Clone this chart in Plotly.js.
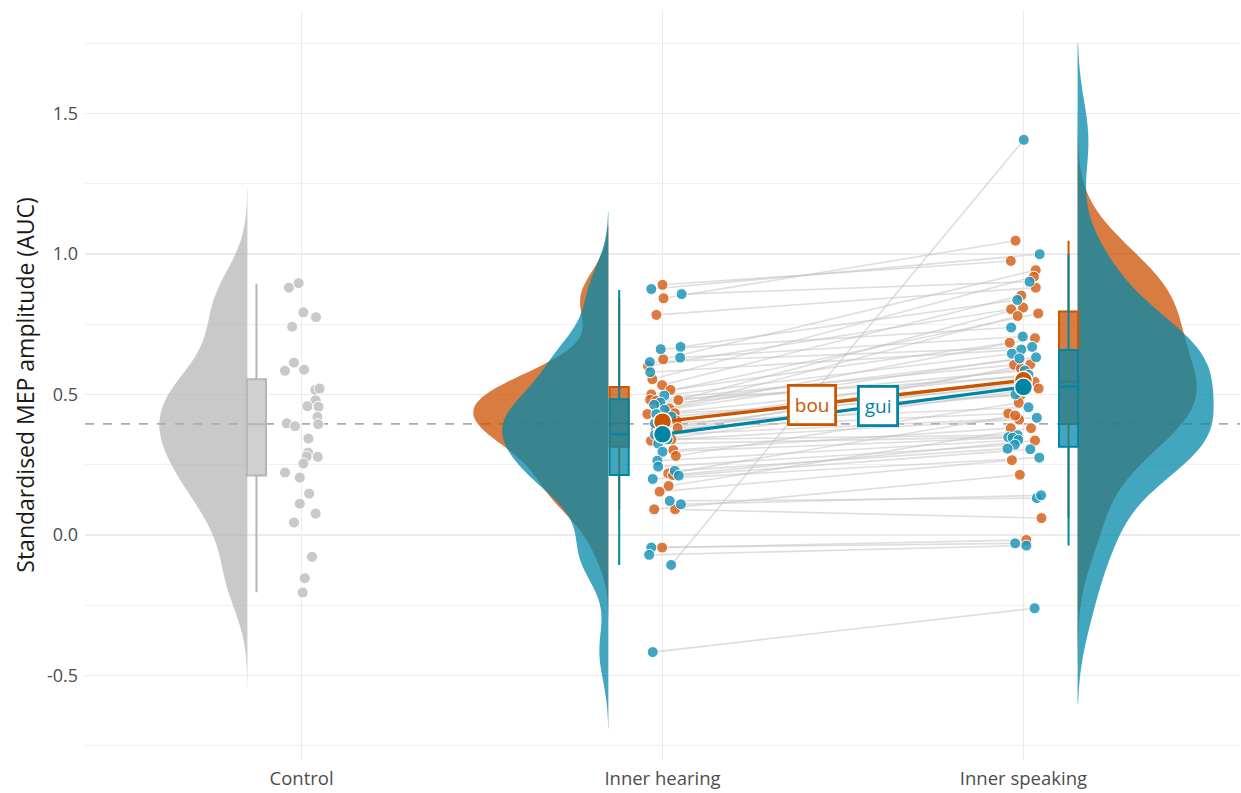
<!DOCTYPE html>
<html><head><meta charset="utf-8">
<script src="https://cdn.plot.ly/plotly-3.0.1.min.js"></script>
<style>html,body{margin:0;padding:0;background:#fff}#chart{width:1241px;height:793px}</style>
</head><body><div id="chart"></div>
<script>
const categories = ['Control', 'Inner hearing', 'Inner speaking'];
const categoryPos = [0, 1, 2];

const controlValues = [0.880,0.896,0.792,0.775,0.741,0.613,0.584,0.588,0.516,0.521,0.479,0.458,0.456,0.420,0.397,0.387,0.394,0.343,0.293,0.279,0.278,0.254,0.222,0.204,0.147,0.111,0.076,0.044,-0.078,-0.154,-0.205];
const controlJitter = [-0.035,-0.008,0.005,0.040,-0.026,-0.021,-0.046,0.007,0.038,0.050,0.039,0.016,0.047,0.044,-0.041,-0.018,0.046,0.019,0.018,0.014,0.045,0.005,-0.046,-0.005,0.021,-0.005,0.039,-0.021,0.029,0.009,0.003];

const hearingBou = [0.890,0.842,0.783,0.625,0.601,0.554,0.533,0.516,0.500,0.481,0.480,0.478,0.450,0.433,0.430,0.407,0.380,0.380,0.360,0.340,0.335,0.302,0.281,0.219,0.213,0.174,0.154,0.091,0.091,-0.045];
const hearingBouJitter = [0,0.003,-0.017,0.002,-0.040,-0.028,-0.001,0.022,-0.031,-0.034,0.044,-0.017,0.019,0.034,-0.042,0.039,0.042,-0.019,0.006,0.025,-0.032,0.030,0.037,0.016,0.029,0.017,-0.008,-0.023,0.035,-0.001];
const speakingBou = [0.975,1.047,0.880,0.942,0.803,0.919,0.852,0.684,0.788,0.605,0.809,0.563,0.700,0.497,0.779,0.592,0.432,0.545,0.607,0.410,0.521,0.380,0.470,0.425,0.336,0.380,0.266,0.214,0.060,-0.018];
const speakingBouJitter = [-0.035,-0.022,0.034,0.034,-0.034,0.029,-0.006,-0.038,0.041,-0.026,-0.001,0.003,0.032,-0.008,-0.016,-0.007,-0.042,0.031,0.019,-0.012,0.042,-0.035,-0.013,-0.023,0.032,0.021,-0.032,-0.010,0.050,0.008];

const hearingGui = [0.875,0.857,0.669,0.661,0.631,0.615,0.579,0.496,0.471,0.463,0.445,0.430,0.421,0.397,0.380,0.356,0.340,0.325,0.296,0.264,0.243,0.228,0.211,0.199,0.121,0.109,-0.045,-0.071,-0.107,-0.417];
const hearingGuiJitter = [-0.031,0.053,0.050,-0.005,0.049,-0.035,-0.034,0.005,-0.006,-0.023,0.006,-0.017,0.025,-0.021,-0.003,-0.021,0.014,-0.012,0,-0.014,-0.012,0.034,0.045,-0.027,0.020,0.051,-0.031,-0.037,0.024,-0.027];
const speakingGui = [0.999,0.901,0.836,0.738,0.706,0.669,0.660,0.645,0.632,0.585,0.628,0.570,0.530,0.454,0.500,0.417,0.355,0.348,0.346,0.338,0.321,0.307,0.305,0.275,0.131,0.141,-0.030,-0.038,1.406,-0.261];
const speakingGuiJitter = [0.045,0.017,-0.017,-0.034,-0.002,0.024,-0.006,-0.032,0.035,0.004,-0.011,0.014,0,0.014,-0.022,0.037,-0.016,-0.042,-0.030,-0.014,-0.024,-0.044,0.019,0.044,0.037,0.049,-0.023,0.008,0.001,0.031];

// condition means (Inner hearing, Inner speaking)
const meanBou = [0.403, 0.550];
const meanGui = [0.358, 0.526];
const controlReference = 0.395;

// box statistics: [Inner hearing, Inner speaking]
const bouQ1 = [0.314, 0.395], bouMedian = [0.397, 0.546], bouQ3 = [0.526, 0.795], bouLow = [0.091, 0.060], bouHigh = [0.842, 1.047];
const guiQ1 = [0.213, 0.314], guiMedian = [0.358, 0.528], guiQ3 = [0.483, 0.658], guiLow = [-0.107, -0.038], guiHigh = [0.872, 0.999];
const controlBox = [0.211, 0.394, 0.554, -0.204, 0.894]; // q1, median, q3, low, high

// density extents
const controlSpan = [-0.55, 1.24];
const hearingBouSpan = [-0.30, 1.10];
const hearingGuiSpan = [-0.69, 1.15];
const speakingBouSpan = [-0.45, 1.50];
const speakingGuiSpan = [-0.60, 1.75];

const ORANGE = 'rgb(204,85,0)';
const BLUE = 'rgb(0,133,165)';
const ORANGE_A = 'rgba(204,80,2,0.75)';
const BLUE_A = 'rgba(3,136,170,0.75)';
const GREY_A = 'rgba(175,175,175,0.68)';

const traces = [];
function violin(vals, pos, side, bw, span, w, fill) {
  traces.push({type:'violin', y: vals, x0: pos, side: side, bandwidth: bw,
    spanmode:'manual', span: span, width: w, scalemode:'width',
    fillcolor: fill, line:{width:0, color:'rgba(0,0,0,0)'}, points:false,
    box:{visible:false}, meanline:{visible:false}, hoverinfo:'skip', showlegend:false});
}
violin(controlValues, -0.15, 'negative', 0.115, controlSpan, 0.488, GREY_A);
violin(hearingBou, 1 - 0.15, 'negative', 0.085, hearingBouSpan, 0.748, ORANGE_A);
violin(hearingGui, 1 - 0.15, 'negative', 0.1, hearingGuiSpan, 0.588, BLUE_A);
violin(speakingBou, 2 + 0.15, 'positive', 0.14, speakingBouSpan, 0.66, ORANGE_A);
violin(speakingGui, 2 + 0.15, 'positive', 0.14, speakingGuiSpan, 0.754, BLUE_A);

function box(pos, q1, med, q3, lo, hi, line, fill) {
  traces.push({type:'box', x: pos, q1: q1, median: med, q3: q3, lowerfence: lo, upperfence: hi,
    width: 0.053, whiskerwidth: 0, line:{color: line, width: 2}, fillcolor: fill,
    boxpoints:false, hoverinfo:'skip', showlegend:false});
}
box([-0.125], [controlBox[0]], [controlBox[1]], [controlBox[2]], [controlBox[3]], [controlBox[4]], 'rgb(182,182,182)', 'rgba(200,200,200,0.85)');
box([1 - 0.12, 2 + 0.125], bouQ1, bouMedian, bouQ3, bouLow, bouHigh, ORANGE, ORANGE_A);
box([1 - 0.12, 2 + 0.125], guiQ1, guiMedian, guiQ3, guiLow, guiHigh, BLUE, BLUE_A);

// paired grey lines
function pairLines(h, hj, s, sj) {
  const xs = [], ys = [];
  for (let i = 0; i < h.length; i++) {
    xs.push(1 + hj[i], 2 + sj[i], null);
    ys.push(h[i], s[i], null);
  }
  traces.push({type:'scatter', mode:'lines', x: xs, y: ys, line:{color:'rgba(195,195,195,0.55)', width:1.6},
    hoverinfo:'skip', showlegend:false});
}
pairLines(hearingBou, hearingBouJitter, speakingBou, speakingBouJitter);
pairLines(hearingGui, hearingGuiJitter, speakingGui, speakingGuiJitter);

function dots(vals, jit, pos, color) {
  traces.push({type:'scatter', mode:'markers', x: vals.map((v, i) => pos + jit[i]), y: vals,
    marker:{size:11, color: color, line:{color:'white', width:1}}, hoverinfo:'skip', showlegend:false});
}
dots(controlValues, controlJitter, 0, 'rgba(198,198,198,0.95)');
dots(hearingBou, hearingBouJitter, 1, 'rgba(214,100,30,0.85)');
dots(speakingBou, speakingBouJitter, 2, 'rgba(214,100,30,0.85)');
dots(hearingGui, hearingGuiJitter, 1, 'rgba(30,150,185,0.85)');
dots(speakingGui, speakingGuiJitter, 2, 'rgba(30,150,185,0.85)');

// mean lines + markers
traces.push({type:'scatter', mode:'lines+markers', x:[1, 2], y: meanBou, line:{color: ORANGE, width:3.3},
  marker:{size:18, color: ORANGE, line:{color:'white', width:1.5}}, hoverinfo:'skip', showlegend:false});
traces.push({type:'scatter', mode:'lines+markers', x:[1, 2], y: meanGui, line:{color: BLUE, width:3.3},
  marker:{size:18, color: BLUE, line:{color:'white', width:1.5}}, hoverinfo:'skip', showlegend:false});

const tB = 0.413, tG = 0.596;
const annotations = [
  {x: 1 + tB, y: meanBou[0] + tB * (meanBou[1] - meanBou[0]), text: 'bou', showarrow:false,
   font:{size:19, color: ORANGE, family:'Open Sans'}, bgcolor:'white', bordercolor: ORANGE, borderwidth:2.8, borderpad:5},
  {x: 1 + tG, y: meanGui[0] + tG * (meanGui[1] - meanGui[0]), text: 'gui', showarrow:false,
   font:{size:19, color: BLUE, family:'Open Sans'}, bgcolor:'white', bordercolor: BLUE, borderwidth:2.8, borderpad:5}
];

const layout = {
  width:1241, height:793,
  margin:{l:85, r:1, t:10, b:33},
  paper_bgcolor:'white', plot_bgcolor:'white',
  font:{family:'Open Sans, Noto Sans, sans-serif', color:'#4d4d4d'},
  violinmode:'overlay', boxmode:'overlay', showlegend:false,
  xaxis:{range:[-0.6, 2.6], tickvals: categoryPos, ticktext: categories, showgrid:true, gridcolor:'#ebebeb', gridwidth:1.3,
    zeroline:false, showline:false, ticks:'', tickfont:{size:18.5, color:'#4d4d4d'}, ticklabelstandoff:5, fixedrange:true},
  yaxis:{range:[-0.801, 1.868], tickvals:[-0.5, 0, 0.5, 1, 1.5], ticktext:['-0.5','0.0','0.5','1.0','1.5'],
    showgrid:true, gridcolor:'#ebebeb', gridwidth:1.3, zeroline:false, showline:false, ticks:'',
    tickfont:{size:18, color:'#4d4d4d'}, ticklabelstandoff:6,
    minor:{tickvals:[-0.75,-0.25,0.25,0.75,1.25,1.75], showgrid:true, gridcolor:'#f0f0f0', gridwidth:1},
    title:{text:'Standardised MEP amplitude (AUC)', font:{size:23, color:'#1a1a1a'}, standoff:5}},
  shapes:[{type:'line', xref:'paper', x0:0, x1:1, yref:'y', y0: controlReference, y1: controlReference,
    line:{color:'rgb(170,170,170)', width:1.6, dash:'dash'}, layer:'below'}],
  annotations: annotations
};

Plotly.newPlot('chart', traces, layout, {displayModeBar:false, staticPlot:true});
</script></body></html>
